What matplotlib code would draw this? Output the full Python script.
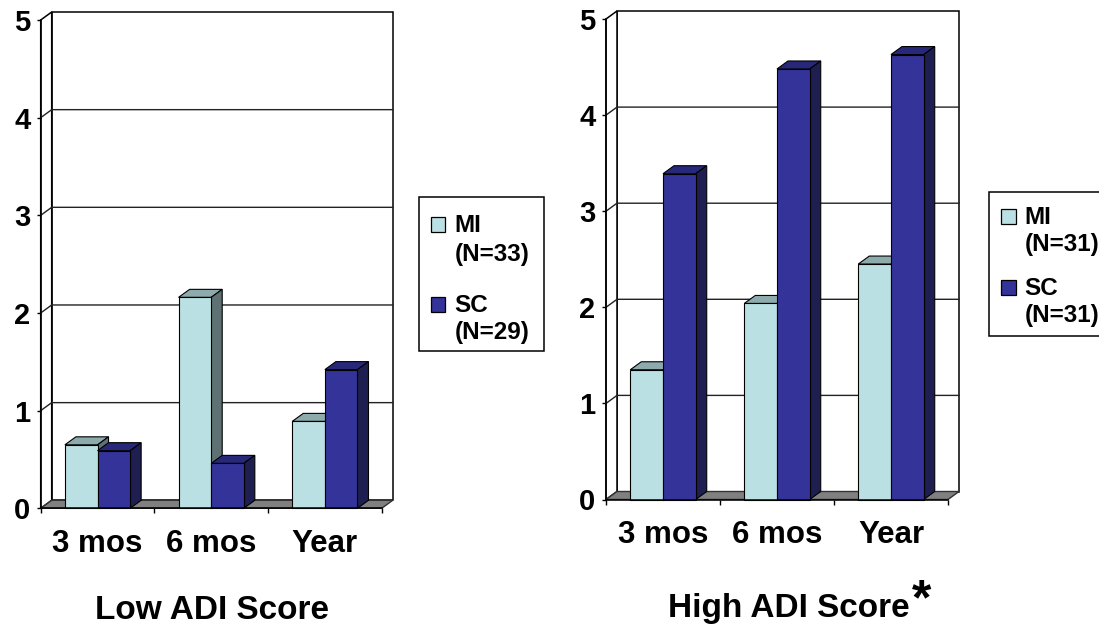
import numpy as np
import matplotlib
matplotlib.use("Agg")
import matplotlib.pyplot as plt
from matplotlib.patches import Polygon, Rectangle

plt.rcParams['font.family'] = ['Liberation Sans', 'DejaVu Sans']
plt.rcParams['font.weight'] = 'bold'

categories = ["3 mos", "6 mos", "Year"]
series = ["MI", "SC"]

# low ADI score panel
low_mi = [0.65, 2.16, 0.89]
low_sc = [0.59, 0.46, 1.42]
low_n = [33, 29]

# high ADI score panel
high_mi = [1.35, 2.04, 2.45]
high_sc = [3.39, 4.48, 4.63]
high_n = [31, 31]

W, H = 1099, 626
face = {"MI": "#BBE0E3", "SC": "#333399"}
top = {"MI": "#8DABAD", "SC": "#28287A"}
side = {"MI": "#5E7274", "SC": "#1E1E50"}
bw = 0.287
depth_px = (11, 8)


def px_box(x0, x1, ytop, ybot):
    return [x0 / W, (H - ybot) / H, (x1 - x0) / W, (ybot - ytop) / H]


def draw_panel(ax, mi, sc):
    ax.set_xlim(0, 3)
    ax.set_ylim(0, 5)
    ax.patch.set_visible(False)
    bb = ax.get_position()
    dx = depth_px[0] / (bb.width * W / 3)
    dy = depth_px[1] / (bb.height * H / 5)

    # walls, floor and gridlines
    ax.add_patch(Rectangle((dx, dy), 3, 5, facecolor="white", edgecolor="black",
                           lw=1.1, zorder=1, clip_on=False))
    ax.add_patch(Polygon([(0, 0), (dx, dy), (dx, 5 + dy), (0, 5)], closed=True,
                         facecolor="white", edgecolor="black", lw=1.1, zorder=1, clip_on=False))
    for v in range(1, 5):
        ax.plot([0, dx, 3 + dx], [v, v + dy, v + dy], color="#222222", lw=1.0,
                zorder=1.5, clip_on=False)
    ax.add_patch(Polygon([(0, 0), (3, 0), (3 + dx, dy), (dx, dy)], closed=True,
                         facecolor="#808080", edgecolor="#333333", lw=1.0, zorder=2, clip_on=False))

    # bars
    x = np.arange(3)
    for k, (name, vals) in enumerate(zip(series, [mi, sc])):
        left = x + 0.5 - bw + k * bw
        z = 3 + k
        ax.bar(left, vals, width=bw, align="edge", color=face[name], edgecolor="black",
               lw=0.8, zorder=z + 0.2, clip_on=False)
        for x0, v in zip(left, vals):
            x1 = x0 + bw
            ax.add_patch(Polygon([(x0, v), (x0 + dx, v + dy), (x1 + dx, v + dy), (x1, v)],
                                 closed=True, facecolor=top[name], edgecolor="black",
                                 lw=0.8, zorder=z + 0.1, clip_on=False))
            ax.add_patch(Polygon([(x1, 0), (x1 + dx, dy), (x1 + dx, v + dy), (x1, v)],
                                 closed=True, facecolor=side[name], edgecolor="black",
                                 lw=0.8, zorder=z + 0.1, clip_on=False))

    # axes and ticks
    for s in ["top", "right"]:
        ax.spines[s].set_visible(False)
    ax.spines["left"].set_linewidth(1.1)
    ax.spines["bottom"].set_linewidth(1.1)
    ax.spines["left"].set_zorder(6)
    ax.spines["bottom"].set_zorder(6)
    ax.set_yticks(range(6))
    ax.tick_params(axis="y", length=3, width=1, pad=4.5, labelsize=21)
    ax.set_xticks(range(4))
    ax.set_xticklabels([])
    ax.tick_params(axis="x", length=3.5, width=1)
    for i, c in enumerate(categories):
        ax.text(i + 0.5, -0.448, c, ha="center", va="baseline", fontsize=22.5,
                fontweight="bold", clip_on=False)


def draw_legend(fig, box, rows, ns):
    # box = (x0, ytop, x1, ybot) in pixels; rows = baselines of label lines
    x0, ytop, x1, ybot = box
    fig.patches.append(Rectangle((x0 / W, (H - ybot) / H), (x1 - x0) / W, (ybot - ytop) / H,
                                 transform=fig.transFigure, facecolor="white",
                                 edgecolor="black", lw=1.1))
    for k, name in enumerate(series):
        b1, b2 = rows[2 * k], rows[2 * k + 1]
        sq = 14.5
        cy = b1 - 7.5
        fig.patches.append(Rectangle(((x0 + 12.5) / W, (H - cy - sq / 2) / H), sq / W, sq / H,
                                     transform=fig.transFigure, facecolor=face[name],
                                     edgecolor="black", lw=0.9))
        tx = (x0 + 36) / W
        fig.text(tx, (H - b1) / H, name, fontsize=17.5, fontweight="bold", va="baseline")
        fig.text(tx, (H - b2) / H, f"(N={ns[k]})", fontsize=17.5, fontweight="bold",
                 va="baseline")


fig = plt.figure(figsize=(W / 100, H / 100), dpi=100)
fig.patch.set_facecolor("white")

ax1 = fig.add_axes(px_box(40.7, 381.7, 20, 508.3))
draw_panel(ax1, low_mi, low_sc)
ax2 = fig.add_axes(px_box(606, 948, 19, 499.5))
draw_panel(ax2, high_mi, high_sc)

draw_legend(fig, (418.5, 197, 543.5, 351), [232, 261, 312, 339], low_n)
draw_legend(fig, (988.5, 192, 1112, 335.5), [224, 251, 295, 322], high_n)

fig.text(212 / W, (H - 619) / H, "Low ADI Score", ha="center", va="baseline",
         fontsize=24, fontweight="bold")
fig.text(789 / W, (H - 617) / H, "High ADI Score", ha="center", va="baseline",
         fontsize=24, fontweight="bold")
fig.text(912 / W, (H - 614) / H, "*", ha="left", va="baseline", fontsize=36,
         fontweight="bold")

fig.savefig("out.png", dpi=100, facecolor="white")
